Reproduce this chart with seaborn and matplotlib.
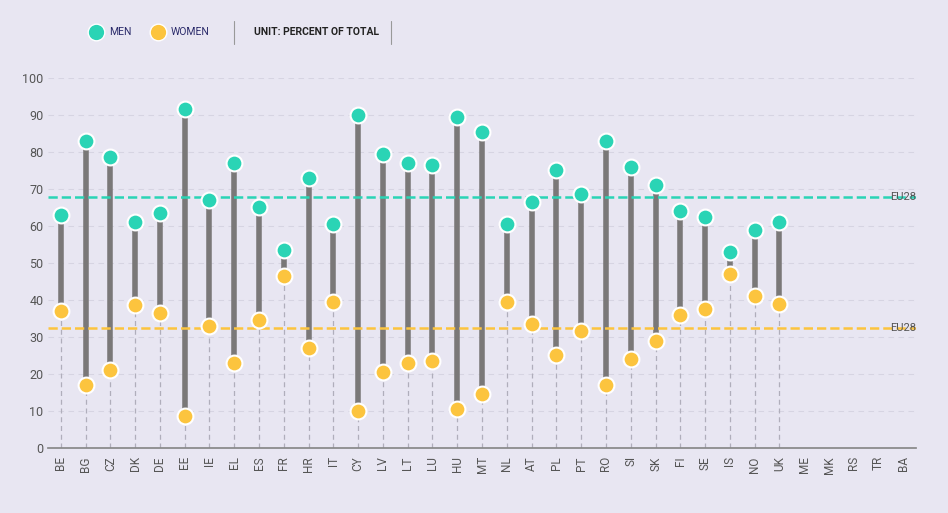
import matplotlib
matplotlib.use("Agg")
import matplotlib.pyplot as plt
import seaborn as sns
import pandas as pd
import numpy as np
from matplotlib.lines import Line2D

countries = ["BE","BG","CZ","DK","DE","EE","IE","EL","ES","FR","HR","IT","CY","LV","LT","LU","HU","MT",
             "NL","AT","PL","PT","RO","SI","SK","FI","SE","IS","NO","UK","ME","MK","RS","TR","BA"]
men = [63,83,78.5,61,63.5,91.5,67,77,65,53.5,73,60.5,90,79.5,77,76.5,89.5,85.5,
       60.5,66.5,75,68.5,83,76,71,64,62.5,53,59,61] + [np.nan]*5
women = [37,17,21,38.5,36.5,8.5,33,23,34.5,46.5,27,39.5,10,20.5,23,23.5,10.5,14.5,
         39.5,33.5,25,31.5,17,24,29,36,37.5,47,41,39] + [np.nan]*5
eu_men = 67.7
eu_women = 32.3

TEAL = "#2ad4b5"
YEL = "#fcc43e"
BG = "#e8e6f2"

sns.set_theme(style="white")
plt.rcParams['font.family'] = ['Roboto', 'DejaVu Sans']
fig = plt.figure(figsize=(9.48, 5.13), dpi=100, facecolor=BG)
ax = fig.add_axes([0.051, 0.127, 0.915, 0.721], facecolor=BG)

df = pd.DataFrame({"c": countries, "men": men, "women": women})
x = np.arange(len(countries))
for i, (m, w) in enumerate(zip(men, women)):
    if np.isnan(m):
        continue
    lo, hi = min(m, w), max(m, w)
    ax.plot([i, i], [0, lo], ls=(0, (4, 3)), color="#b0aebb", lw=0.9, zorder=1)
    ax.plot([i, i], [lo, hi], color="#7a7878", lw=4, zorder=2, solid_capstyle="butt")

sns.scatterplot(x=x, y=df["men"], ax=ax, color=TEAL, s=130, edgecolor="white", linewidth=1.5, zorder=3)
sns.scatterplot(x=x, y=df["women"], ax=ax, color=YEL, s=130, edgecolor="white", linewidth=1.5, zorder=3)

ax.axhline(eu_men, color=TEAL, ls="--", lw=1.8, zorder=2)
ax.axhline(eu_women, color=YEL, ls="--", lw=1.8, zorder=2)
ax.text(len(countries) - 0.5, eu_men, "EU28", ha="right", va="center", fontsize=8, color="#555")
ax.text(len(countries) - 0.5, eu_women, "EU28", ha="right", va="center", fontsize=8, color="#555")

ax.set_xlim(-0.5, len(countries) - 0.5)
ax.set_ylim(0, 100)
ax.set_yticks(range(0, 101, 10))
ax.set_xticks(x)
ax.set_xticklabels(countries, rotation=90, fontsize=8.5, color="#555")
ax.tick_params(axis="y", labelsize=9, colors="#555", length=0)
ax.tick_params(axis="x", length=0, pad=6)
ax.set_xlabel(""); ax.set_ylabel("")
for yv in range(10, 101, 10):
    ax.axhline(yv, color="#d6d4e2", lw=0.8, ls=(0, (5, 4)), zorder=0)
for s in ["top", "right", "left"]:
    ax.spines[s].set_visible(False)
ax.spines["bottom"].set_color("#888")

h = [Line2D([], [], marker="o", ls="", markersize=12, markerfacecolor=TEAL, markeredgecolor="white"),
     Line2D([], [], marker="o", ls="", markersize=12, markerfacecolor=YEL, markeredgecolor="white")]
fig.legend(h, ["MEN", "WOMEN"], loc="center left", bbox_to_anchor=(0.08, 0.937), ncol=2, frameon=False,
           fontsize=7.5, handletextpad=0.3, columnspacing=1.5, labelcolor="#2a2a6a")
fig.add_artist(Line2D([0.247, 0.247], [0.915, 0.96], color="#999", lw=0.8))
fig.add_artist(Line2D([0.412, 0.412], [0.915, 0.96], color="#999", lw=0.8))
fig.text(0.268, 0.937, "UNIT: PERCENT OF TOTAL", fontsize=7.5, fontweight="bold", va="center", color="#222")

fig.savefig("out.png", dpi=100, facecolor=BG)
